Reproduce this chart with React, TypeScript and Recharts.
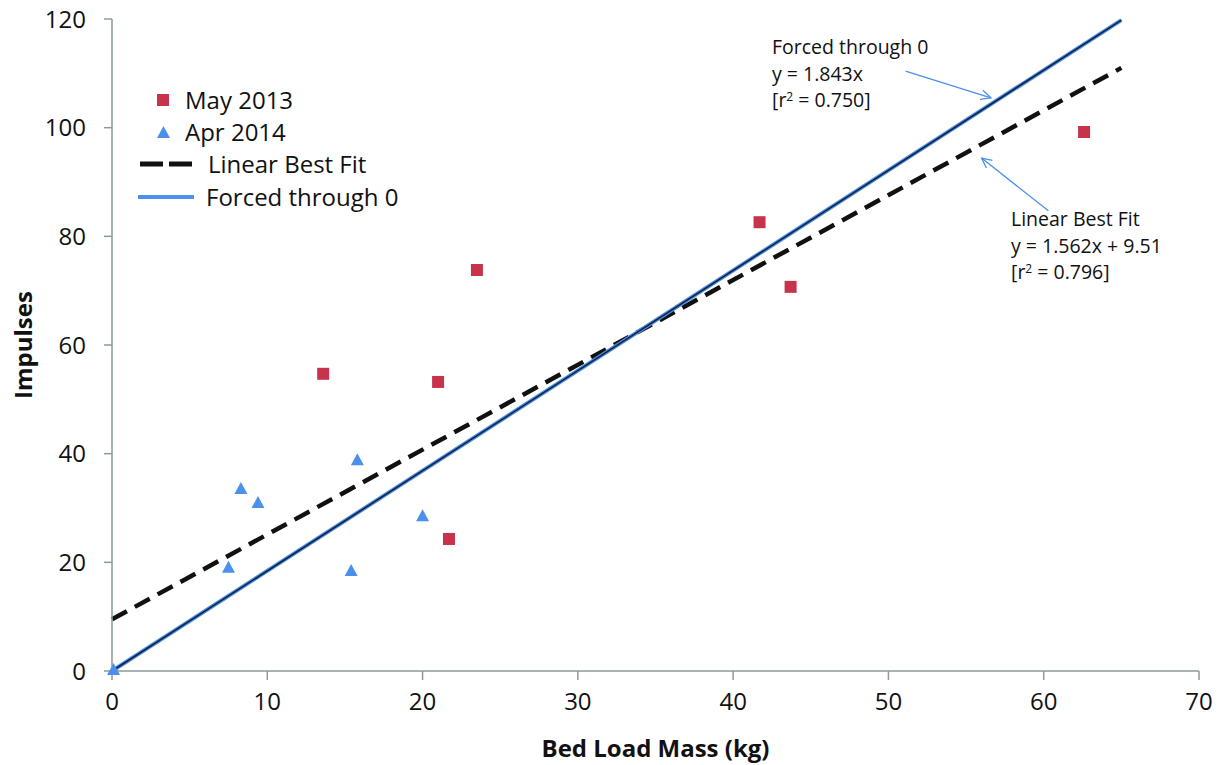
import React from 'react';
import {
  ComposedChart,
  Scatter,
  Line,
  XAxis,
  YAxis,
  ReferenceLine,
} from 'recharts';

const FONT = '"Open Sans", Lato, sans-serif';
const AXIS = '#8E9A9A';
const RED = '#C7334B';
const BLUE = '#4A90EC';

// bed load mass (kg) vs impulses
const may2013 = [
  { x: 13.6, y: 54.7 },
  { x: 21.0, y: 53.2 },
  { x: 21.7, y: 24.3 },
  { x: 23.5, y: 73.8 },
  { x: 41.7, y: 82.6 },
  { x: 43.7, y: 70.7 },
  { x: 62.6, y: 99.2 },
];

const apr2014 = [
  { x: 0.1, y: 0.2 },
  { x: 7.5, y: 19.0 },
  { x: 8.3, y: 33.5 },
  { x: 9.4, y: 30.9 },
  { x: 15.4, y: 18.4 },
  { x: 15.8, y: 38.8 },
  { x: 20.0, y: 28.5 },
];

const bestFit = [
  { x: 0, y: 9.51 },
  { x: 65, y: 111.0 },
];

const forcedFit = [
  { x: 0, y: 0 },
  { x: 65, y: 119.8 },
];

const xTicks = [0, 10, 20, 30, 40, 50, 60, 70];
const yTicks = [0, 20, 40, 60, 80, 100, 120];

// annotation arrows: [x1, y1, x2, y2] in data units
const forcedArrow = [51.1, 110.4, 56.6, 105.5];
const bestArrow = [60.3, 84.7, 56.0, 94.4];

const SquareDot = (props: any) => {
  const { cx, cy } = props;
  if (cx == null || cy == null) return <g />;
  return <rect x={cx - 6} y={cy - 6} width={12} height={12} fill={RED} />;
};

const TriangleDot = (props: any) => {
  const { cx, cy } = props;
  if (cx == null || cy == null) return <g />;
  return (
    <path
      d={`M${cx},${cy - 7} L${cx + 6.5},${cy + 5} L${cx - 6.5},${cy + 5} Z`}
      fill={BLUE}
    />
  );
};

const ArrowShape = (props: any) => {
  const { x1, y1, x2, y2 } = props;
  if ([x1, y1, x2, y2].some((v) => v == null || isNaN(v))) return <g />;
  const a = Math.atan2(y2 - y1, x2 - x1);
  const len = 11;
  const spread = 0.45;
  const p1 = [x2 - len * Math.cos(a - spread), y2 - len * Math.sin(a - spread)];
  const p2 = [x2 - len * Math.cos(a + spread), y2 - len * Math.sin(a + spread)];
  return (
    <g stroke={BLUE} strokeWidth={1.3} fill="none">
      <line x1={x1} y1={y1} x2={x2} y2={y2} />
      <polyline points={`${p1[0]},${p1[1]} ${x2},${y2} ${p2[0]},${p2[1]}`} />
    </g>
  );
};

const LegendBox = () => {
  const row: React.CSSProperties = {
    position: 'absolute',
    display: 'flex',
    alignItems: 'center',
    whiteSpace: 'nowrap',
    fontSize: 24,
    lineHeight: '28px',
    height: 28,
    color: '#111',
    fontFamily: FONT,
  };
  return (
    <div style={{ position: 'absolute', left: 130, top: 88, width: 320, height: 130 }}>
      <div style={{ ...row, left: 27, top: -2 }}>
        <svg width={12} height={12} style={{ marginRight: 16 }}>
          <rect width={12} height={12} fill={RED} />
        </svg>
        May 2013
      </div>
      <div style={{ ...row, left: 27, top: 30 }}>
        <svg width={13} height={12} style={{ marginRight: 15 }}>
          <path d="M6.5,0 L13,12 L0,12 Z" fill={BLUE} />
        </svg>
        Apr 2014
      </div>
      <div style={{ ...row, left: 8, top: 62 }}>
        <svg width={56} height={8} style={{ marginRight: 14 }}>
          <line x1={2} y1={4} x2={54} y2={4} stroke="#111" strokeWidth={5} strokeDasharray="23 6" />
        </svg>
        Linear Best Fit
      </div>
      <div style={{ ...row, left: 8, top: 95 }}>
        <svg width={56} height={8} style={{ marginRight: 12 }}>
          <line x1={1} y1={4} x2={55} y2={4} stroke={BLUE} strokeWidth={4} strokeLinecap="round" />
        </svg>
        Forced through 0
      </div>
    </div>
  );
};

const noteStyle: React.CSSProperties = {
  position: 'absolute',
  fontFamily: FONT,
  fontSize: 19.5,
  lineHeight: '26.5px',
  color: '#111',
  whiteSpace: 'nowrap',
};

const YTitle = (props: any) => {
  const { viewBox } = props;
  const cx = 22;
  const cy = viewBox.y + viewBox.height / 2;
  return (
    <text
      x={cx}
      y={cy}
      transform={`rotate(-90 ${cx} ${cy})`}
      textAnchor="middle"
      dominantBaseline="central"
      fontFamily={FONT}
      fontWeight="bold"
      fontSize={24}
      fill="#111"
    >
      Impulses
    </text>
  );
};

export default function App() {
  const tick = { fontFamily: FONT, fontSize: 24, fill: '#111' };
  return (
    <div style={{ position: 'absolute', left: 0, top: 0, width: 1222, height: 765, background: '#fff' }}>
      <ComposedChart
        width={1222}
        height={765}
        margin={{ top: 19, right: 23, left: 0, bottom: 0 }}
      >
        <XAxis
          type="number"
          dataKey="x"
          domain={[0, 70]}
          ticks={xTicks}
          interval={0}
          height={94}
          stroke={AXIS}
          strokeWidth={1.5}
          tickSize={9}
          tickMargin={13}
          tick={tick}
          label={{
            value: 'Bed Load Mass (kg)',
            position: 'insideBottom',
            offset: 8,
            style: { fontFamily: FONT, fontWeight: 'bold', fontSize: 24, fill: '#111' },
          }}
        />
        <YAxis
          type="number"
          dataKey="y"
          domain={[0, 120]}
          ticks={yTicks}
          interval={0}
          width={112}
          stroke={AXIS}
          strokeWidth={1.5}
          tickSize={8}
          tickMargin={18}
          tick={tick}
          label={<YTitle />}
        />
        <Scatter name="May 2013" data={may2013} shape={<SquareDot />} isAnimationActive={false} />
        <Scatter name="Apr 2014" data={apr2014} shape={<TriangleDot />} isAnimationActive={false} />
        <Line
          data={bestFit}
          dataKey="y"
          type="linear"
          stroke="#111"
          strokeWidth={4.5}
          strokeDasharray="17 9"
          dot={false}
          activeDot={false}
          legendType="none"
          isAnimationActive={false}
        />
        <Line
          data={forcedFit}
          dataKey="y"
          type="linear"
          stroke={BLUE}
          strokeWidth={4}
          dot={false}
          activeDot={false}
          legendType="none"
          isAnimationActive={false}
        />
        <Line
          data={forcedFit}
          dataKey="y"
          type="linear"
          stroke="#14213D"
          strokeWidth={1.6}
          dot={false}
          activeDot={false}
          legendType="none"
          isAnimationActive={false}
        />
        <ReferenceLine
          segment={[
            { x: forcedArrow[0], y: forcedArrow[1] },
            { x: forcedArrow[2], y: forcedArrow[3] },
          ]}
          shape={<ArrowShape />}
        />
        <ReferenceLine
          segment={[
            { x: bestArrow[0], y: bestArrow[1] },
            { x: bestArrow[2], y: bestArrow[3] },
          ]}
          shape={<ArrowShape />}
        />
      </ComposedChart>
      <LegendBox />
      <div style={{ ...noteStyle, left: 772, top: 34 }}>
        <div>Forced through 0</div>
        <div>y = 1.843x</div>
        <div>
          [r<sup style={{ fontSize: 12, verticalAlign: 6, lineHeight: 0 }}>2</sup> = 0.750]
        </div>
      </div>
      <div style={{ ...noteStyle, left: 1011, top: 206 }}>
        <div>Linear Best Fit</div>
        <div>y = 1.562x + 9.51</div>
        <div>
          [r<sup style={{ fontSize: 12, verticalAlign: 6, lineHeight: 0 }}>2</sup> = 0.796]
        </div>
      </div>
    </div>
  );
}
